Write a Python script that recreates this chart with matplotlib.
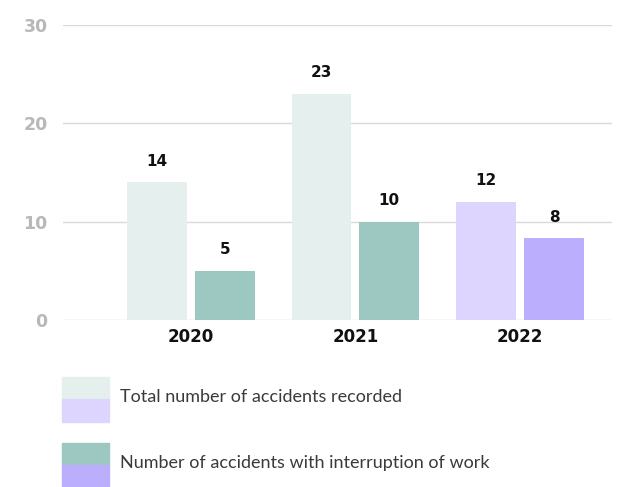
import matplotlib.pyplot as plt
from matplotlib.patches import Rectangle

years = ["2020", "2021", "2022"]
total = [14, 23, 12]
interrupted = [5, 10, 8.3]
total_labels = ["14", "23", "12"]
interrupted_labels = ["5", "10", "8"]
legend_labels = ["Total number of accidents recorded",
                 "Number of accidents with interruption of work"]

teal_light, teal = "#e5f0ee", "#9cc8c1"
purple_light, purple = "#ddd5fd", "#bbaefc"
total_colors = [teal_light, teal_light, purple_light]
inter_colors = [teal, teal, purple]

fig = plt.figure(figsize=(6.27, 4.87), dpi=100)
ax = fig.add_axes([63 / 627, 167 / 487, 549 / 627, 295 / 487])

x = range(len(years))
w = 0.364
off = 0.206
ax.bar([i - off for i in x], total, width=w, color=total_colors, zorder=2)
ax.bar([i + off for i in x], interrupted, width=w, color=inter_colors, zorder=2)

for i in x:
    ax.text(i - off, total[i] + 1.4, total_labels[i], ha="center", va="bottom",
            fontsize=11, fontweight="bold", color="#111111")
    ax.text(i + off, interrupted[i] + 1.4, interrupted_labels[i], ha="center", va="bottom",
            fontsize=11, fontweight="bold", color="#111111")

ax.set_xlim(-0.776, 2.558)
ax.set_ylim(0, 30)
ax.set_yticks([0, 10, 20, 30])
ax.set_xticks(list(x))
ax.set_xticklabels(years, fontsize=12, fontweight="bold", color="#111111")
ax.tick_params(axis="y", length=0, pad=11, labelsize=12.5, labelcolor="#b8b8b8")
ax.tick_params(axis="x", length=0, pad=6)
for lbl in ax.get_yticklabels():
    lbl.set_fontweight("bold")
ax.grid(axis="y", color="#dadada", linewidth=1.0, zorder=0)
for s in ax.spines.values():
    s.set_visible(False)

# legend swatches (two-tone squares)
for k, (top_c, bot_c, y_top) in enumerate([(teal_light, purple_light, 377),
                                            (teal, purple, 443)]):
    fig.patches.append(Rectangle((62 / 627, 1 - (y_top + 22) / 487), 47 / 627, 22 / 487,
                                 transform=fig.transFigure, color=top_c))
    fig.patches.append(Rectangle((62 / 627, 1 - (y_top + 45) / 487), 47 / 627, 23 / 487,
                                 transform=fig.transFigure, color=bot_c))
    fig.text(120 / 627, 1 - (y_top + 20) / 487, legend_labels[k], fontsize=13,
             family=["Lato", "DejaVu Sans"], fontweight="normal",
             color="#3a3a3a", va="center", ha="left")

fig.savefig("out.png", dpi=100)
